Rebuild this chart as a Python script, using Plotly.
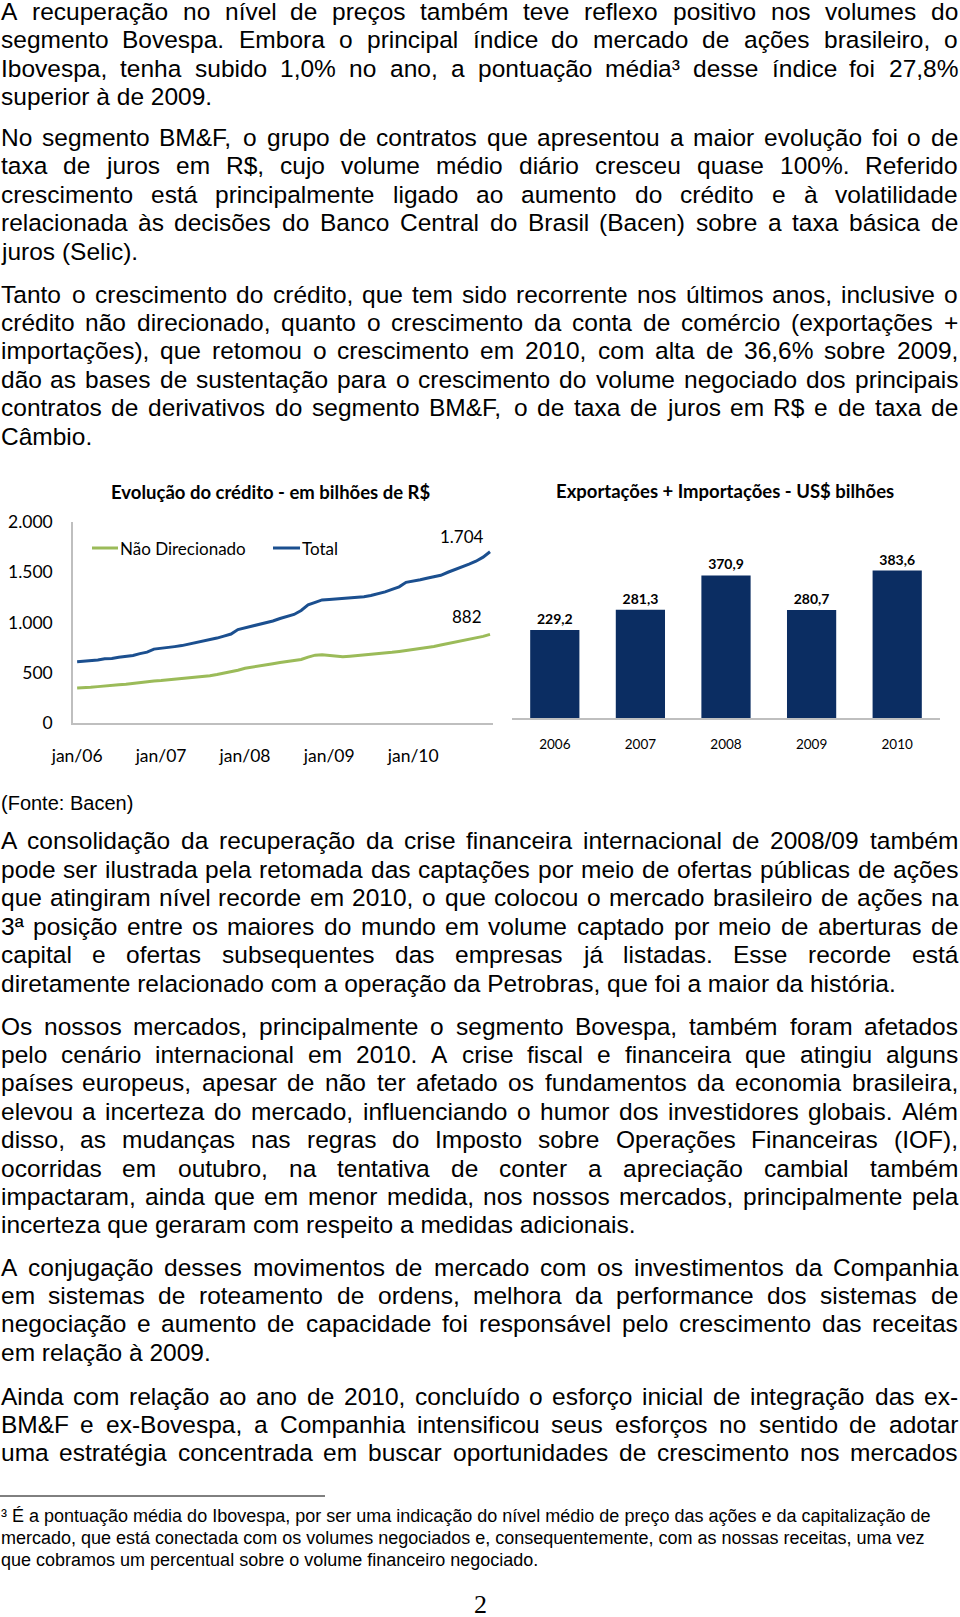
import unicodedata
import pandas as pd
import plotly.graph_objects as go

W, H = 960, 1617

# --- chart data ---
months = pd.date_range("2006-01-01", periods=60, freq="MS")
total = [610, 614, 622, 628, 640, 642, 655, 660, 672, 690, 705, 735,
         742, 750, 760, 770, 784, 797, 812, 828, 845, 865, 885, 930,
         948, 960, 978, 995, 1015, 1040, 1060, 1080, 1120, 1175, 1200, 1225,
         1230, 1236, 1238, 1240, 1248, 1257, 1268, 1285, 1305, 1330, 1355, 1400,
         1410, 1425, 1440, 1455, 1470, 1500, 1525, 1548, 1580, 1610, 1650, 1704]
nao_direcionado = [348, 350, 356, 362, 370, 374, 380, 386, 395, 405, 412, 418,
                   422, 428, 435, 442, 450, 455, 460, 470, 482, 495, 510, 525,
                   545, 555, 568, 580, 590, 602, 612, 622, 632, 655, 675, 678,
                   670, 662, 660, 665, 670, 676, 683, 688, 695, 703, 712, 722,
                   730, 738, 748, 762, 776, 790, 805, 818, 832, 845, 862, 882]
year_ticks = ["2006-01-01", "2007-01-01", "2008-01-01", "2009-01-01", "2010-01-01"]
year_labels = ["jan/06", "jan/07", "jan/08", "jan/09", "jan/10"]
credit_ticks = [0, 500, 1000, 1500, 2000]
credit_labels = ["0", "500", "1.000", "1.500", "2.000"]

bar_years = ["2006", "2007", "2008", "2009", "2010"]
trade = [229.2, 281.3, 370.9, 280.7, 383.6]

# --- page text ---
paragraphs = [
    (11.5, [
        "A recuperação no nível de preços também teve reflexo positivo nos volumes do",
        "segmento Bovespa. Embora o principal índice do mercado de ações brasileiro, o",
        "Ibovespa, tenha subido 1,0% no ano, a pontuação média³ desse índice foi 27,8%",
        "superior à de 2009."], False),
    (137.5, [
        "No segmento BM&F, o grupo de contratos que apresentou a maior evolução foi o de",
        "taxa de juros em R$, cujo volume médio diário cresceu quase 100%. Referido",
        "crescimento está principalmente ligado ao aumento do crédito e à volatilidade",
        "relacionada às decisões do Banco Central do Brasil (Bacen) sobre a taxa básica de",
        "juros (Selic)."], False),
    (294, [
        "Tanto o crescimento do crédito, que tem sido recorrente nos últimos anos, inclusive o",
        "crédito não direcionado, quanto o crescimento da conta de comércio (exportações +",
        "importações), que retomou o crescimento em 2010, com alta de 36,6% sobre 2009,",
        "dão as bases de sustentação para o crescimento do volume negociado dos principais",
        "contratos de derivativos do segmento BM&F, o de taxa de juros em R$ e de taxa de",
        "Câmbio."], False),
    (841, [
        "A consolidação da recuperação da crise financeira internacional de 2008/09 também",
        "pode ser ilustrada pela retomada das captações por meio de ofertas públicas de ações",
        "que atingiram nível recorde em 2010, o que colocou o mercado brasileiro de ações na",
        "3ª posição entre os maiores do mundo em volume captado por meio de aberturas de",
        "capital e ofertas subsequentes das empresas já listadas. Esse recorde está",
        "diretamente relacionado com a operação da Petrobras, que foi a maior da história."], False),
    (1026, [
        "Os nossos mercados, principalmente o segmento Bovespa, também foram afetados",
        "pelo cenário internacional em 2010. A crise fiscal e financeira que atingiu alguns",
        "países europeus, apesar de não ter afetado os fundamentos da economia brasileira,",
        "elevou a incerteza do mercado, influenciando o humor dos investidores globais. Além",
        "disso, as mudanças nas regras do Imposto sobre Operações Financeiras (IOF),",
        "ocorridas em outubro, na tentativa de conter a apreciação cambial também",
        "impactaram, ainda que em menor medida, nos nossos mercados, principalmente pela",
        "incerteza que geraram com respeito a medidas adicionais."], False),
    (1267, [
        "A conjugação desses movimentos de mercado com os investimentos da Companhia",
        "em sistemas de roteamento de ordens, melhora da performance dos sistemas de",
        "negociação e aumento de capacidade foi responsável pelo crescimento das receitas",
        "em relação à 2009."], False),
    (1396, [
        "Ainda com relação ao ano de 2010, concluído o esforço inicial de integração das ex-",
        "BM&F e ex-Bovespa, a Companhia intensificou seus esforços no sentido de adotar",
        "uma estratégia concentrada em buscar oportunidades de crescimento nos mercados"], True),
]
footnote = [
    "³ É a pontuação média do Ibovespa, por ser uma indicação do nível médio de preço das ações e da capitalização de",
    "mercado, que está conectada com os volumes negociados e, consequentemente, com as nossas receitas, uma vez",
    "que cobramos um percentual sobre o volume financeiro negociado.",
]

# Arial / Liberation Sans advance widths (1/1000 em)
ARIAL = {" ": 278, "!": 278, "$": 556, "%": 889, "&": 667, "(": 333, ")": 333,
         "+": 584, ",": 278, "-": 333, ".": 278, "/": 278, ":": 278, ";": 278,
         "ª": 370, "³": 333, "º": 365}
for ch in "0123456789":
    ARIAL[ch] = 556
for ch, w in zip("ABCDEFGHIJKLMNOPQRSTUVWXYZ",
                 [667, 667, 722, 722, 667, 611, 778, 722, 278, 500, 667, 556, 833,
                  722, 778, 667, 778, 722, 667, 611, 722, 667, 944, 667, 667, 611]):
    ARIAL[ch] = w
for ch, w in zip("abcdefghijklmnopqrstuvwxyz",
                 [556, 556, 500, 556, 556, 278, 556, 556, 222, 222, 500, 222, 833,
                  556, 556, 556, 556, 333, 500, 278, 556, 500, 722, 500, 500, 500]):
    ARIAL[ch] = w


def text_width(s, size):
    total_w = 0
    for c in s:
        if c not in ARIAL:
            c = unicodedata.normalize("NFD", c)[0]
        total_w += ARIAL.get(c, 556)
    return total_w * size / 1000


def esc(s):
    return s.replace("&", "&amp;")


def px(x):
    return x / W


def py(y):
    return 1 - y / H


BODY = "Liberation Sans, Arial, sans-serif"
CHART = "Lato, Calibri, sans-serif"
annotations = []


def put(text, x, y, size, family=BODY, anchor="left", bold=False, color="#000000"):
    annotations.append(dict(
        text=("<b>%s</b>" % esc(text)) if bold else esc(text),
        xref="paper", yref="paper", x=px(x), y=py(y),
        xanchor=anchor, yanchor="middle", showarrow=False,
        borderpad=0, borderwidth=0,
        font=dict(family=family, size=size, color=color)))


FS = 24.5
STEP = 28.4
X0, X1 = 0.5, 958
for y0, lines, justify_last in paragraphs:
    for i, line in enumerate(lines):
        y = y0 + i * STEP
        last = i == len(lines) - 1
        if last and not justify_last:
            put(line, X0, y, FS)
            continue
        words = line.split(" ")
        widths = [text_width(w, FS) for w in words]
        gap = (X1 - X0 - sum(widths)) / (len(words) - 1)
        x = X0
        for w, wd in zip(words, widths):
            put(w, x, y, FS)
            x += wd + gap

put("(Fonte: Bacen)", X0, 803, 20)
for i, line in enumerate(footnote):
    put(line, X0, 1516 + i * 22, 18)
put("2", 480, 1604, 26, family="Liberation Serif, Times New Roman, serif", anchor="center")

# chart titles, legend and labels
put("Evolução do crédito - em bilhões de R$", 270, 492, 18.5, family=CHART, anchor="center", bold=True)
put("Exportações + Importações - US$ bilhões", 725, 491, 18.5, family=CHART, anchor="center", bold=True)
put("Não Direcionado", 120, 548, 17, family=CHART)
put("Total", 302, 548, 17, family=CHART)

GREEN = "#9bbb59"
BLUE = "#1b4f8f"

for val, xs, ys in [(total[-1], -28, 15), (nao_direcionado[-1], -23, 18)]:
    annotations.append(dict(
        text="{:,}".format(val).replace(",", "."), x=months[-1], y=val,
        xref="x", yref="y", xanchor="center", yanchor="middle",
        xshift=xs, yshift=ys, showarrow=False,
        font=dict(family=CHART, size=17, color="#000000")))

shapes = [
    dict(type="line", xref="paper", yref="paper", x0=px(0), x1=px(325),
         y0=py(1496), y1=py(1496), line=dict(color="#000000", width=1)),
    dict(type="line", xref="paper", yref="paper", x0=px(92), x1=px(118),
         y0=py(548), y1=py(548), line=dict(color=GREEN, width=3)),
    dict(type="line", xref="paper", yref="paper", x0=px(273), x1=px(300),
         y0=py(548), y1=py(548), line=dict(color=BLUE, width=3)),
]

fig = go.Figure()
fig.add_trace(go.Scatter(x=months, y=nao_direcionado, mode="lines", name="Não Direcionado",
                         line=dict(color=GREEN, width=3), xaxis="x", yaxis="y"))
fig.add_trace(go.Scatter(x=months, y=total, mode="lines", name="Total",
                         line=dict(color=BLUE, width=3), xaxis="x", yaxis="y"))
fig.add_trace(go.Bar(x=bar_years, y=trade, xaxis="x2", yaxis="y2", width=0.575,
                     marker=dict(color="#0b2d62", line=dict(width=0)),
                     text=[("%.1f" % v).replace(".", ",") for v in trade],
                     textposition="outside", cliponaxis=False,
                     textfont=dict(family=CHART, size=14, color="#000000", weight="bold")))

axis_common = dict(showgrid=False, zeroline=False, ticks="", showline=True,
                   linecolor="#bfbfbf", linewidth=1.5, automargin=False)

fig.update_layout(
    width=W, height=H, margin=dict(l=0, r=0, t=0, b=0, pad=0, autoexpand=False),
    paper_bgcolor="white", plot_bgcolor="white", showlegend=False,
    xaxis=dict(domain=[px(73), px(493)], anchor="y", type="date",
               range=["2005-12-14", "2010-12-14"], tickvals=year_ticks, ticktext=year_labels,
               tickfont=dict(family=CHART, size=17.5, color="#000000"), ticklabelstandoff=16,
               **axis_common),
    yaxis=dict(domain=[py(723), py(522)], anchor="x", range=[0, 2000],
               tickvals=credit_ticks, ticktext=credit_labels,
               tickfont=dict(family=CHART, size=17.5, color="#000000"), ticklabelstandoff=15,
               **axis_common),
    xaxis2=dict(domain=[px(512), px(940)], anchor="y2", type="category", range=[-0.5, 4.5],
                tickfont=dict(family=CHART, size=13.5, color="#000000"), ticklabelstandoff=13,
                **axis_common),
    yaxis2=dict(domain=[py(718), py(545)], anchor="x2", range=[0, 450], visible=False),
    annotations=annotations, shapes=shapes,
)

# the page is a full-bleed figure: drop the browser's default body margin
fig.write_html("out.html", config={"displayModeBar": False},
               post_script="document.body.style.margin = '0';")
